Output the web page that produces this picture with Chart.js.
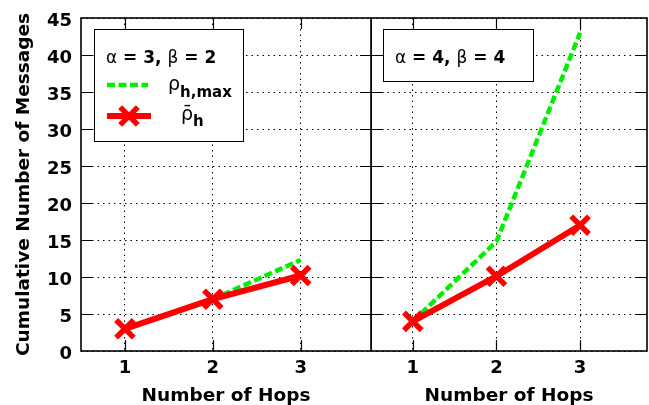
<!DOCTYPE html>
<html><head><meta charset="utf-8">
<script src="https://cdn.jsdelivr.net/npm/chart.js@4.4.1/dist/chart.umd.min.js"></script>
<style>
html,body{margin:0;padding:0;background:#fff;}
#wrap{position:relative;width:649px;height:405px;overflow:hidden;background:#fff;}
canvas{position:absolute;top:0;}
</style></head><body>
<div id="wrap">
<canvas id="c1" width="372" height="405" style="left:0;width:372px;height:405px"></canvas>
<canvas id="c2" width="278" height="405" style="left:371px;width:278px;height:405px"></canvas>
</div>
<script>
// ---------------- data ----------------
const hops = [1, 2, 3];
const xTickValues = [1, 2, 3];
const yTickStep = 5;
const alphaValues = [3, 4];
const betaValues = [2, 4];
// panel 1 (alpha = 3, beta = 2)
const rhoMaxA = [3, 7, 12.3];
const rhoBarA = [3, 7, 10.2];
// panel 2 (alpha = 4, beta = 4)
const rhoMaxB = [4, 14.8, 43];
const rhoBarB = [4, 10.1, 17];
const xTitle = 'Number of Hops';
const yTitle = 'Cumulative Number of Messages';

// ---------------- style ----------------
const FAM = '"DejaVu Sans"';
const RED = '#ff0000';
const GREEN = '#00ee00';
Chart.defaults.font.family = FAM;
Chart.defaults.color = '#000';

function drawRuns(ctx, x, y, runs) {
  let cx = x;
  runs.forEach(r => {
    ctx.font = r.font;
    ctx.fillText(r.t, cx, y + (r.dy || 0));
    cx += ctx.measureText(r.t).width + (r.gap || 0);
  });
}

const framePlugin = {
  id: 'gnuFrame',
  beforeDatasetsDraw(chart) {
    const {ctx, chartArea: a, scales: {x, y}} = chart;
    ctx.save();
    ctx.strokeStyle = '#000';
    ctx.lineWidth = 1.2;
    ctx.setLineDash([]);
    ctx.beginPath();
    y.ticks.forEach(t => {
      const py = Math.round(y.getPixelForValue(t.value)) + 0.5;
      if (py <= a.top + 1 || py >= a.bottom - 1) return;
      ctx.moveTo(a.left, py); ctx.lineTo(a.left + 11, py);
      ctx.moveTo(a.right, py); ctx.lineTo(a.right - 11, py);
    });
    x.ticks.forEach(t => {
      const px = Math.round(x.getPixelForValue(t.value)) + 0.5;
      ctx.moveTo(px, a.bottom); ctx.lineTo(px, a.bottom - 11);
      ctx.moveTo(px, a.top); ctx.lineTo(px, a.top + 11);
    });
    ctx.stroke();
    ctx.lineWidth = 1.6;
    ctx.strokeRect(a.left, a.top, a.right - a.left, a.bottom - a.top);
    ctx.restore();
  }
};

function drawX(ctx, cx, cy, r, w, color) {
  const o = r * Math.SQRT1_2;
  ctx.save();
  ctx.strokeStyle = color; ctx.lineWidth = w; ctx.setLineDash([]);
  ctx.beginPath();
  ctx.moveTo(cx - o, cy - o); ctx.lineTo(cx + o, cy + o);
  ctx.moveTo(cx - o, cy + o); ctx.lineTo(cx + o, cy - o);
  ctx.stroke();
  ctx.restore();
}

const keyPlugin = {
  id: 'panelKey',
  afterDatasetsDraw(chart, args, opts) {
    const {ctx, chartArea: a} = chart;
    const bx = a.left + opts.dx, by = a.top + opts.dy;
    ctx.save();
    ctx.fillStyle = '#fff';
    ctx.fillRect(bx, by, opts.w, opts.h);
    ctx.strokeStyle = '#000'; ctx.lineWidth = 1; ctx.setLineDash([]);
    ctx.strokeRect(bx + 0.5, by + 0.5, opts.w, opts.h);
    ctx.fillStyle = '#000';
    ctx.textBaseline = 'alphabetic';
    ctx.textAlign = 'left';
    const normal = '17px ' + FAM, bold = 'bold 17px ' + FAM;
    drawRuns(ctx, bx + 12, by + 34, [
      {t: 'α', font: normal},
      {t: ' = ' + opts.alpha + ', ', font: bold},
      {t: 'β', font: normal},
      {t: ' = ' + opts.beta, font: bold}
    ]);
    if (opts.series) {
      // rho_{h,max}
      ctx.save();
      ctx.strokeStyle = GREEN; ctx.lineWidth = 4.5; ctx.setLineDash([8, 3.5]);
      ctx.beginPath(); ctx.moveTo(bx + 13, by + 56); ctx.lineTo(bx + 54, by + 56); ctx.stroke();
      ctx.restore();
      drawRuns(ctx, bx + 74, by + 61, [
        {t: 'ρ', font: '19px ' + FAM},
        {t: 'h,max', font: 'bold 15px ' + FAM, dy: 7}
      ]);
      // rho bar h
      ctx.save();
      ctx.strokeStyle = RED; ctx.lineWidth = 6; ctx.setLineDash([]);
      ctx.beginPath(); ctx.moveTo(bx + 13, by + 87); ctx.lineTo(bx + 57, by + 87); ctx.stroke();
      ctx.restore();
      drawX(ctx, bx + 35, by + 87, 12.5, 5.5, RED);
      drawRuns(ctx, bx + 87, by + 91, [
        {t: 'ρ̄', font: '19px ' + FAM},
        {t: 'h', font: 'bold 15px ' + FAM, dy: 6}
      ]);
    }
    ctx.restore();
  }
};

function makeChart(id, rhoMax, rhoBar, showY, padRight, padLeft, key) {
  const redDs = {
    label: 'rho_bar_h',
    data: hops.map((h, i) => ({x: h, y: rhoBar[i]})),
    borderColor: RED, backgroundColor: RED,
    borderWidth: 6,
    pointStyle: 'crossRot', pointRadius: 12.5, pointHoverRadius: 12.5,
    pointBorderWidth: 5.5, pointBorderColor: RED, pointBackgroundColor: RED,
    tension: 0
  };
  const greenDs = {
    label: 'rho_h_max',
    data: hops.map((h, i) => ({x: h, y: rhoMax[i]})),
    borderColor: GREEN, backgroundColor: GREEN,
    borderWidth: 4.5, borderDash: [8, 3.5], borderCapStyle: 'butt',
    pointRadius: 0, pointHoverRadius: 0,
    tension: 0
  };
  return new Chart(document.getElementById(id), {
    type: 'line',
    data: {datasets: [redDs, greenDs]},
    plugins: [framePlugin, keyPlugin],
    options: {
      responsive: false, animation: false, devicePixelRatio: 1,
      events: [],
      layout: {autoPadding: false, padding: {top: 18, right: padRight, left: padLeft, bottom: 0}},
      plugins: {legend: {display: false}, tooltip: {enabled: false}, panelKey: key},
      scales: {
        x: {
          type: 'linear', min: 0.5, max: 3.8,
          afterBuildTicks: s => { s.ticks = xTickValues.map(v => ({value: v})); },
          afterFit: s => { s.height = 54; s.paddingLeft = 0; s.paddingRight = 0; },
          grid: {color: '#000', lineWidth: 1, drawTicks: false, borderDash: [1.5, 4]},
          border: {display: false, dash: [1.5, 4]},
          ticks: {font: {size: 18, weight: 'bold'}, color: '#000', padding: 7, maxRotation: 0},
          title: {display: true, text: xTitle, color: '#000',
                  font: {size: 18.5, weight: 'bold', lineHeight: 1}, padding: {top: 0, bottom: 0}}
        },
        y: {
          type: 'linear', min: 0, max: 45,
          afterFit: s => { s.width = showY ? 81 : 0; s.paddingTop = 0; s.paddingBottom = 0; },
          grid: {color: '#000', lineWidth: 1, drawTicks: false, borderDash: [1.5, 4]},
          border: {display: false, dash: [1.5, 4]},
          ticks: {display: showY, stepSize: yTickStep, font: {size: 18, weight: 'bold'},
                  color: '#000', padding: 9, labelOffset: 3},
          title: {display: showY, text: yTitle, color: '#000',
                  font: {size: 18.5, weight: 'bold', lineHeight: 1}, padding: {top: 14.75, bottom: 0}}
        }
      }
    }
  });
}

makeChart('c1', rhoMaxA, rhoBarA, true, 1, 0,
  {dx: 13, dy: 11, w: 149, h: 112, alpha: alphaValues[0], beta: betaValues[0], series: true});
makeChart('c2', rhoMaxB, rhoBarB, false, 2, 0,
  {dx: 12, dy: 11, w: 150, h: 52, alpha: alphaValues[1], beta: betaValues[1], series: false});
</script>
</body></html>
